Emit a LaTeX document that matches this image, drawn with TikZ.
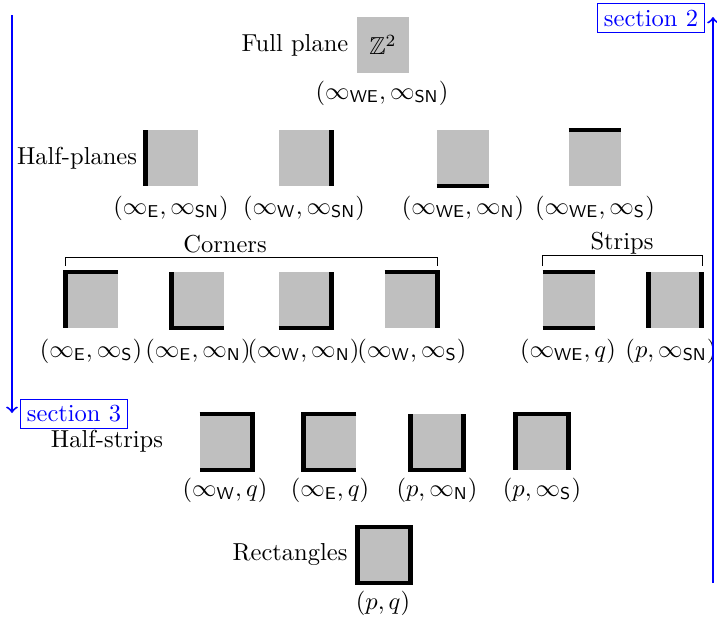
\documentclass[tikz,border=0pt]{standalone}
\usepackage{amssymb}
\begin{document}
\begin{tikzpicture}[x=0.408pt,y=-0.408pt,
  sq/.style={fill=lightgray,minimum width=21.6pt,minimum height=22.8pt,inner sep=0pt,outer sep=0pt},
  edge/.style={line width=1.7pt,line join=miter},
  lbl/.style={inner sep=0pt},
  txt/.style={inner sep=0pt},
  sect/.style={draw=blue,text=blue,inner sep=2.5pt,thin},
  sarrow/.style={draw=blue,thick,->}]
\useasboundingbox (0,0) rectangle (717,623);
% Row 0
\node[txt] (tfull) at (295,45) {Full plane};
\node[sq] (z) at (383,45) {$\mathbb{Z}^2$};
\node[lbl] (lz) at (382,93) {$(\infty_{\mathsf{WE}},\infty_{\mathsf{SN}})$};
% Row 1
\node[txt] (thalf) at (77,158) {Half-planes};
\node[sq] (h1) at (172,158) {};
\node[sq] (h2) at (305,158) {};
\node[sq] (h3) at (463,158) {};
\node[sq] (h4) at (595,158) {};
\draw[edge] (h1.south west) -- (h1.north west);
\draw[edge] (h2.south east) -- (h2.north east);
\draw[edge] (h3.south west) -- (h3.south east);
\draw[edge] (h4.north west) -- (h4.north east);
\node[lbl] (lh1) at (171,208) {$(\infty_{\mathsf{E}},\infty_{\mathsf{SN}})$};
\node[lbl] (lh2) at (304,208) {$(\infty_{\mathsf{W}},\infty_{\mathsf{SN}})$};
\node[lbl] (lh3) at (463,208) {$(\infty_{\mathsf{WE}},\infty_{\mathsf{N}})$};
\node[lbl] (lh4) at (595,208) {$(\infty_{\mathsf{WE}},\infty_{\mathsf{S}})$};
% Row 2
\node[txt] (tcorn) at (225,244) {Corners};
\coordinate (cb1) at (65,266);
\coordinate (cb2) at (65,257);
\coordinate (cb3) at (437,257);
\coordinate (cb4) at (437,266);
\draw[thin] (cb1) -- (cb2) -- (cb3) -- (cb4);
\node[txt] (tstrip) at (622,243) {Strips};
\coordinate (sb1) at (542,266);
\coordinate (sb2) at (542,255);
\coordinate (sb3) at (702,255);
\coordinate (sb4) at (702,266);
\draw[thin] (sb1) -- (sb2) -- (sb3) -- (sb4);
\node[sq] (c1) at (92,300) {};
\node[sq] (c2) at (198,300) {};
\node[sq] (c3) at (305,300) {};
\node[sq] (c4) at (411,300) {};
\node[sq] (s1) at (569,300) {};
\node[sq] (s2) at (675,300) {};
\draw[edge] (c1.south west) -- (c1.north west) -- (c1.north east);
\draw[edge] (c2.north west) -- (c2.south west) -- (c2.south east);
\draw[edge] (c3.south west) -- (c3.south east) -- (c3.north east);
\draw[edge] (c4.north west) -- (c4.north east) -- (c4.south east);
\draw[edge] (s1.north west) -- (s1.north east);
\draw[edge] (s1.south west) -- (s1.south east);
\draw[edge] (s2.north west) -- (s2.south west);
\draw[edge] (s2.north east) -- (s2.south east);
\node[lbl] (lc1) at (91,351) {$(\infty_{\mathsf{E}},\infty_{\mathsf{S}})$};
\node[lbl] (lc2) at (198,351) {$(\infty_{\mathsf{E}},\infty_{\mathsf{N}})$};
\node[lbl] (lc3) at (303.5,351) {$(\infty_{\mathsf{W}},\infty_{\mathsf{N}})$};
\node[lbl] (lc4) at (412,351) {$(\infty_{\mathsf{W}},\infty_{\mathsf{S}})$};
\node[lbl] (ls1) at (568,351) {$(\infty_{\mathsf{WE}},q)$};
\node[lbl] (ls2) at (671,351) {$(p,\infty_{\mathsf{SN}})$};
% Row 3
\node[txt] (thstrip) at (107,441) {Half-strips};
\node[sq] (q1) at (226,442) {};
\node[sq] (q2) at (330,442) {};
\node[sq] (q3) at (437,442) {};
\node[sq] (q4) at (542,442) {};
\draw[edge] (q1.north west) -- (q1.north east) -- (q1.south east) -- (q1.south west);
\draw[edge] (q2.north east) -- (q2.north west) -- (q2.south west) -- (q2.south east);
\draw[edge] (q3.north west) -- (q3.south west) -- (q3.south east) -- (q3.north east);
\draw[edge] (q4.south west) -- (q4.north west) -- (q4.north east) -- (q4.south east);
\node[lbl] (lq1) at (225,490) {$(\infty_{\mathsf{W}},q)$};
\node[lbl] (lq2) at (330,490) {$(\infty_{\mathsf{E}},q)$};
\node[lbl] (lq3) at (437,490) {$(p,\infty_{\mathsf{N}})$};
\node[lbl] (lq4) at (542,490) {$(p,\infty_{\mathsf{S}})$};
% Row 4
\node[txt] (trect) at (290,555) {Rectangles};
\node[sq] (r) at (384,555) {};
\draw[edge] (r.north west) rectangle (r.south east);
\node[lbl] (lr) at (383,603) {$(p,q)$};
% Section arrows
\coordinate (a2s) at (713,583);
\coordinate (a2e) at (713,17);
\draw[sarrow] (a2s) -- (a2e);
\node[sect] (sec2) at (651,18) {section 2};
\coordinate (a3s) at (12,15);
\coordinate (a3e) at (12,413);
\draw[sarrow] (a3s) -- (a3e);
\node[sect] (sec3) at (74,414) {section 3};
\end{tikzpicture}
\end{document}
